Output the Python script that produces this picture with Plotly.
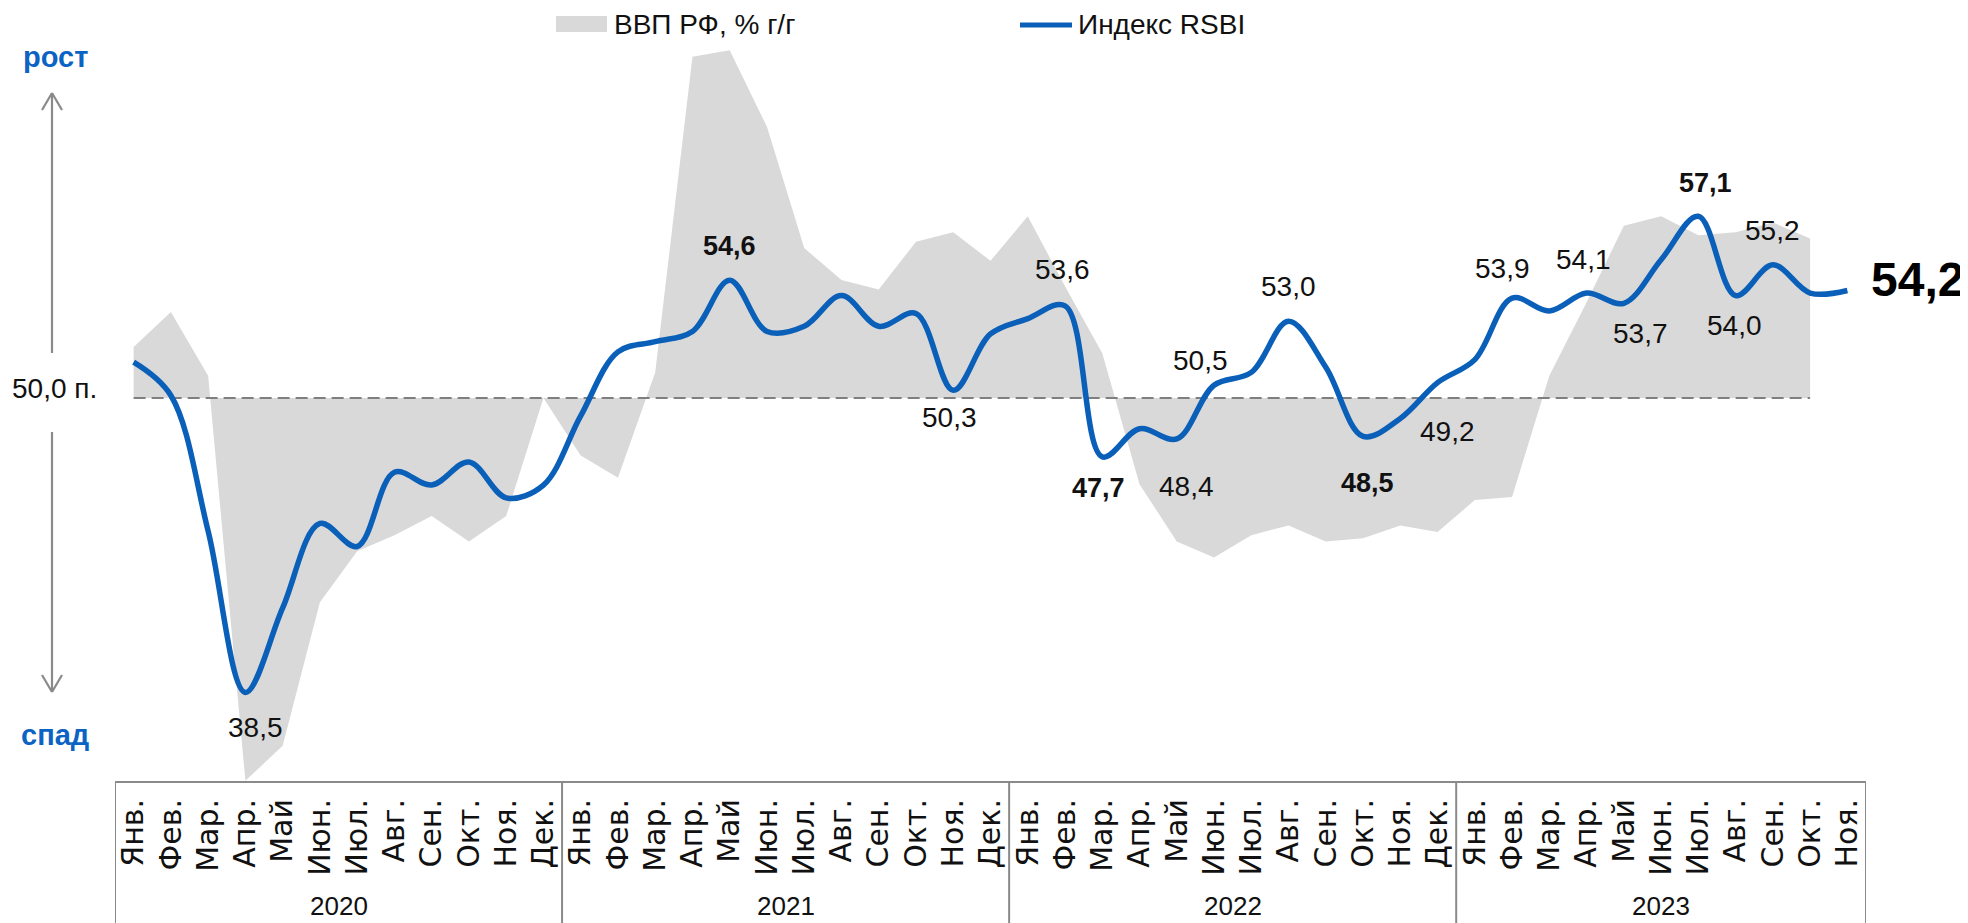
import plotly.graph_objects as go

# ---------------- data ----------------
months = ["Янв.", "Фев.", "Мар.", "Апр.", "Май", "Июн.", "Июл.", "Авг.", "Сен.", "Окт.", "Ноя.", "Дек."] * 3 + \
         ["Янв.", "Фев.", "Мар.", "Апр.", "Май", "Июн.", "Июл.", "Авг.", "Сен.", "Окт.", "Ноя."]
years = ["2020"] * 12 + ["2021"] * 12 + ["2022"] * 12 + ["2023"] * 11

rsbi = [51.4, 50.1, 44.8, 38.5, 41.8, 45.1, 44.2, 47.1, 46.6, 47.5, 46.1, 46.6,
        49.3, 51.8, 52.2, 52.6, 54.6, 52.6, 52.8, 54.0, 52.8, 53.3, 50.3, 52.5,
        53.1, 53.6, 47.7, 48.8, 48.4, 50.5, 51.0, 53.0, 51.2, 48.5, 49.2, 50.6,
        51.5, 53.9, 53.4, 54.1, 53.7, 55.4, 57.1, 54.0, 55.2, 54.1, 54.2]

gdp = [1.6, 2.7, 0.7, -12.0, -10.9, -6.4, -4.8, -4.3, -3.7, -4.5, -3.7, 0.0,
       -1.8, -2.5, 0.8, 10.7, 10.9, 8.5, 4.7, 3.7, 3.4, 4.9, 5.2, 4.3,
       5.7, 3.5, 1.4, -2.7, -4.5, -5.0, -4.3, -4.0, -4.5, -4.4, -4.0, -4.2,
       -3.2, -3.1, 0.7, 3.0, 5.4, 5.7, 5.1, 5.2, 5.5, 5.0]

threshold = 50.0

# labelled points: index, bold?, xshift, yshift
labels = [
    (3, False, 10, -35),
    (16, True, 0, 34),
    (22, False, -4, -27),
    (25, False, -3, 36),
    (26, True, -4, -31),
    (28, False, 10, -48),
    (29, False, -14, 25),
    (31, False, 0, 35),
    (33, True, 4, -47),
    (34, False, 47, -13),
    (37, False, -10, 30),
    (39, False, -3, 34),
    (40, False, 17, -30),
    (42, True, 7, 33),
    (43, False, -1, -30),
    (44, False, 0, 34),
]

# ---------------- layout geometry ----------------
# page body has an 8px margin: the figure is placed at (8, 8) on the page
OFF = 8
FW, FH = 1960, 915
L, R, T, B = 107, 102, 32, 142
PW, PH = FW - L - R, FH - T - B


def px(x):  # page x -> paper
    return (x - OFF - L) / PW


def py(y):  # page y -> paper
    return (FH - B - (y - OFF)) / PH


BLUE = "#0A5FB8"
TEXTBLUE = "#0B63C4"
GRAY = "#D9D9D9"
LINEGRAY = "#8A8A8A"
FONT = "Liberation Sans, Arial, sans-serif"
MFONT = "DejaVu Sans, sans-serif"


def fmt(v):
    return f"{v:.1f}".replace(".", ",")


xs = list(range(len(months)))
xg = list(range(len(gdp)))

fig = go.Figure()

# GDP area (primary y)
fig.add_trace(go.Scatter(
    x=xg, y=gdp, mode="lines", fill="tozeroy", fillcolor=GRAY,
    line=dict(width=0, color=GRAY), yaxis="y", hoverinfo="skip", showlegend=False))

# threshold dashed line (RSBI axis)
fig.add_trace(go.Scatter(
    x=[xg[0], xg[-1]], y=[threshold, threshold], mode="lines",
    line=dict(color="#7F7F7F", width=2, dash="12px,6px"), yaxis="y2",
    hoverinfo="skip", showlegend=False))

# RSBI line
fig.add_trace(go.Scatter(
    x=xs, y=rsbi, mode="lines", line=dict(color=BLUE, width=5.5, shape="spline", smoothing=1.0),
    yaxis="y2", showlegend=False))

annotations = []
for idx, bold, dx, dy in labels:
    t = fmt(rsbi[idx])
    annotations.append(dict(
        x=idx, y=rsbi[idx], xref="x", yref="y2", text=f"<b>{t}</b>" if bold else t,
        showarrow=False, xshift=dx, yshift=dy, xanchor="center", yanchor="middle",
        font=dict(family=FONT, size=27 if bold else 28, color="#111111")))

# last value, big
annotations.append(dict(
    x=xs[-1], y=rsbi[-1], xref="x", yref="y2", text=f"<b>{fmt(rsbi[-1])}</b>",
    showarrow=False, xanchor="left", yanchor="middle", xshift=22, yshift=11,
    font=dict(family=FONT, size=48, color="#000000")))

# year labels
year_names = []
for y in years:
    if y not in year_names:
        year_names.append(y)
bounds = []
for yn in year_names:
    idxs = [i for i, y in enumerate(years) if y == yn]
    bounds.append((idxs[0], idxs[-1]))
    annotations.append(dict(
        x=(idxs[0] + idxs[-1]) / 2, y=py(906), xref="x", yref="paper", text=yn,
        showarrow=False, xanchor="center", yanchor="middle",
        font=dict(family=FONT, size=26, color="#111111")))


def ptext(x, y, text, size, color, anchor="center"):
    return dict(x=px(x), y=py(y), xref="paper", yref="paper", text=text, showarrow=False,
                xanchor=anchor, yanchor="middle", font=dict(family=FONT, size=size, color=color))


annotations += [
    ptext(55, 57, "<b>рост</b>", 29, TEXTBLUE),
    ptext(55, 735, "<b>спад</b>", 29, TEXTBLUE),
    ptext(54, 388, "50,0 п.", 28, "#111111"),
    ptext(612, 25, "ВВП РФ, % г/г", 28, "#111111", "left"),
    ptext(1076, 25, "Индекс RSBI", 28, "#111111", "left"),
]

shapes = []
# year dividers
div_x = [b[0] - 0.5 for b in bounds] + [bounds[-1][1] + 0.5]
for dxv in div_x:
    shapes.append(dict(type="line", xref="x", yref="paper", x0=dxv, x1=dxv, y0=0, y1=py(930),
                       line=dict(color=LINEGRAY, width=2)))


def seg(x0, y0, x1, y1):
    return dict(type="line", xref="paper", yref="paper", x0=px(x0), y0=py(y0), x1=px(x1), y1=py(y1),
                line=dict(color=LINEGRAY, width=2.2))


shapes += [
    seg(52, 353, 52, 93), seg(52, 93, 42, 110), seg(52, 93, 62, 110),
    seg(52, 432, 52, 692), seg(52, 692, 42, 675), seg(52, 692, 62, 675),
]
# legend symbols
shapes.append(dict(type="rect", xref="paper", yref="paper", x0=px(556), x1=px(607), y0=py(32), y1=py(16),
                   fillcolor=GRAY, line=dict(width=0)))
shapes.append(dict(type="line", xref="paper", yref="paper", x0=px(1020), x1=px(1072), y0=py(25), y1=py(25),
                   line=dict(color=BLUE, width=5)))

fig.update_layout(
    width=FW, height=FH,
    margin=dict(l=L, r=R, t=T, b=B, autoexpand=False),
    paper_bgcolor="white", plot_bgcolor="white",
    showlegend=False,
    xaxis=dict(range=[-0.5, len(months) - 0.5], tickmode="array", tickvals=xs, ticktext=months,
               tickangle=-90, tickfont=dict(family=MFONT, size=30, color="#111111"),
               showgrid=False, zeroline=False, showline=True, linecolor=LINEGRAY, linewidth=2,
               ticks="", ticklabelstandoff=4, automargin=False),
    yaxis=dict(range=[-12.006, 11.223], visible=False, showgrid=False, zeroline=False),
    yaxis2=dict(range=[35.039, 63.984], overlaying="y", visible=False, showgrid=False, zeroline=False),
    annotations=annotations,
    shapes=shapes,
)

fig.write_html("out.html")
